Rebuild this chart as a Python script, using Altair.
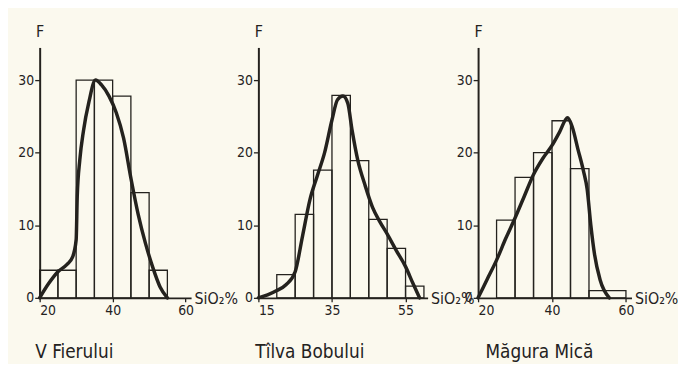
import altair as alt
import pandas as pd

# ---------------- data ----------------
# V Fierului
p1_bin_start = [20, 25, 30, 35, 40, 45, 50]
p1_bin_end = [25, 30, 35, 40, 45, 50, 55]
p1_freq = [3.8, 3.8, 30, 30, 27.8, 14.5, 3.8]
p1_curve_x = [20, 22.5, 25, 27.5, 29, 30, 30.3, 31, 32, 33.5, 35.3, 37, 39, 41, 43, 45, 47, 49, 51, 53, 55]
p1_curve_y = [0, 2, 3.6, 4.6, 5.6, 8, 14, 19, 23, 27, 30, 29.3, 27.8, 25.5, 22, 16.5, 11.5, 7.5, 4.2, 1.5, 0]
p1_ticks = [20, 40, 60]

# Tîlva Bobului
p2_bin_start = [20, 25, 30, 35, 40, 45, 50, 55]
p2_bin_end = [25, 30, 35, 40, 45, 50, 55, 60]
p2_freq = [3.2, 11.5, 17.6, 27.9, 18.9, 10.8, 6.8, 1.6]
p2_curve_x = [15, 17.5, 20, 22.5, 25, 27, 29, 31, 33, 35, 36.5, 38, 39.3, 40.5, 42, 44, 46, 48, 50, 52.5, 55, 57, 58.8]
p2_curve_y = [0, 0.4, 1, 1.8, 3.6, 8.5, 13.5, 16.8, 20, 24.5, 27.3, 27.8, 26.8, 23, 19, 15.5, 12.5, 10.5, 8.8, 6.5, 4.3, 2, 0]
p2_ticks = [15, 35, 55]

# Măgura Mică
p3_bin_start = [25, 30, 35, 40, 45, 50]
p3_bin_end = [30, 35, 40, 45, 50, 60]
p3_freq = [10.7, 16.6, 20, 24.4, 17.8, 1]
p3_curve_x = [20, 22.5, 25, 27.5, 30, 32.5, 35, 37.5, 40, 42, 44.2, 45.5, 47, 48.5, 49.5, 50.5, 51.5, 53, 55.5]
p3_curve_y = [0, 2.6, 5.2, 8.2, 11, 14, 17, 19.2, 21, 22.8, 24.8, 23.5, 20.5, 17.5, 15, 10, 6, 2.5, 0]
p3_ticks = [20, 40, 60]

titles = ["V Fierului", "Tîlva Bobului", "Măgura Mică"]

# ---------------- style ----------------
INK = "#24221e"
BG = "#fbf9ee"
FONT = "Liberation Sans Narrow, DejaVu Sans Condensed, Roboto Condensed, DejaVu Sans, sans-serif"
H = 253


def panel(bs, be, fr, cx, cy, ticks, xdom, width, span, title, title_dx):
    bars = pd.DataFrame({"x": bs, "x2": be, "f": fr})
    curve = pd.DataFrame({"x": cx, "y": cy})
    xscale = alt.Scale(domain=xdom, range=[0, span], nice=False, zero=False)
    yscale = alt.Scale(domain=[0, 34.5], nice=False)
    xaxis = alt.Axis(
        values=ticks, title="SiO₂%", titleAlign="left", titleBaseline="middle",
        titleX=span + 3, titleY=1, titleFont=FONT, titleFontSize=16,
        titleFontWeight="normal", titleColor=INK,
        labelFont=FONT, labelFontSize=14, labelColor=INK, labelFlush=1,
        labelPadding=2, tickSize=4, tickColor=INK, tickWidth=1.3,
        domainColor=INK, domainWidth=1.8, grid=False,
    )
    yaxis = alt.Axis(
        values=[0, 10, 20, 30], title="F", titleAngle=0, titleAlign="center",
        titleBaseline="alphabetic", titleX=0, titleY=-11, titleFont=FONT,
        titleFontSize=16, titleFontWeight="normal", titleColor=INK,
        labelFont=FONT, labelFontSize=14, labelColor=INK, labelPadding=1,
        tickSize=5, tickColor=INK, tickWidth=1.3,
        domainColor=INK, domainWidth=2, grid=False,
    )
    b = alt.Chart(bars).mark_rect(fillOpacity=0, stroke=INK, strokeWidth=1.3).encode(
        x=alt.X("x:Q", scale=xscale, axis=xaxis),
        x2="x2:Q",
        y=alt.Y("f:Q", scale=yscale, axis=yaxis),
        y2=alt.datum(0),
    )
    c = alt.Chart(curve).mark_line(
        interpolate="monotone", color=INK, strokeWidth=3.5, strokeCap="round", strokeJoin="round"
    ).encode(
        x=alt.X("x:Q", scale=xscale, axis=xaxis),
        y=alt.Y("y:Q", scale=yscale, axis=yaxis),
    )
    return alt.layer(b, c).properties(
        width=width, height=H,
        title=alt.TitleParams(
            title, orient="bottom", anchor="start", frame="group", align="center",
            dx=title_dx, offset=26, font=FONT, fontSize=19, fontWeight="normal", color=INK,
        ),
    )


p1 = panel(p1_bin_start, p1_bin_end, p1_freq, p1_curve_x, p1_curve_y, p1_ticks, [20, 61.5], 170, 153, titles[0], 35)
p2 = panel(p2_bin_start, p2_bin_end, p2_freq, p2_curve_x, p2_curve_y, p2_ticks, [15, 61], 171, 171, titles[1], 52)
p3 = panel(p3_bin_start, p3_bin_end, p3_freq, p3_curve_x, p3_curve_y, p3_ticks, [20, 61.5], 155, 155, titles[2], 62)

chart = alt.hconcat(p1, p2, p3, spacing=51, bounds="flush").properties(
    padding={"left": 9, "top": 14, "right": 0, "bottom": 0},
    background=BG,
).configure_view(stroke=None)

chart.save("out.html", embed_options={"renderer": "svg", "actions": False})
